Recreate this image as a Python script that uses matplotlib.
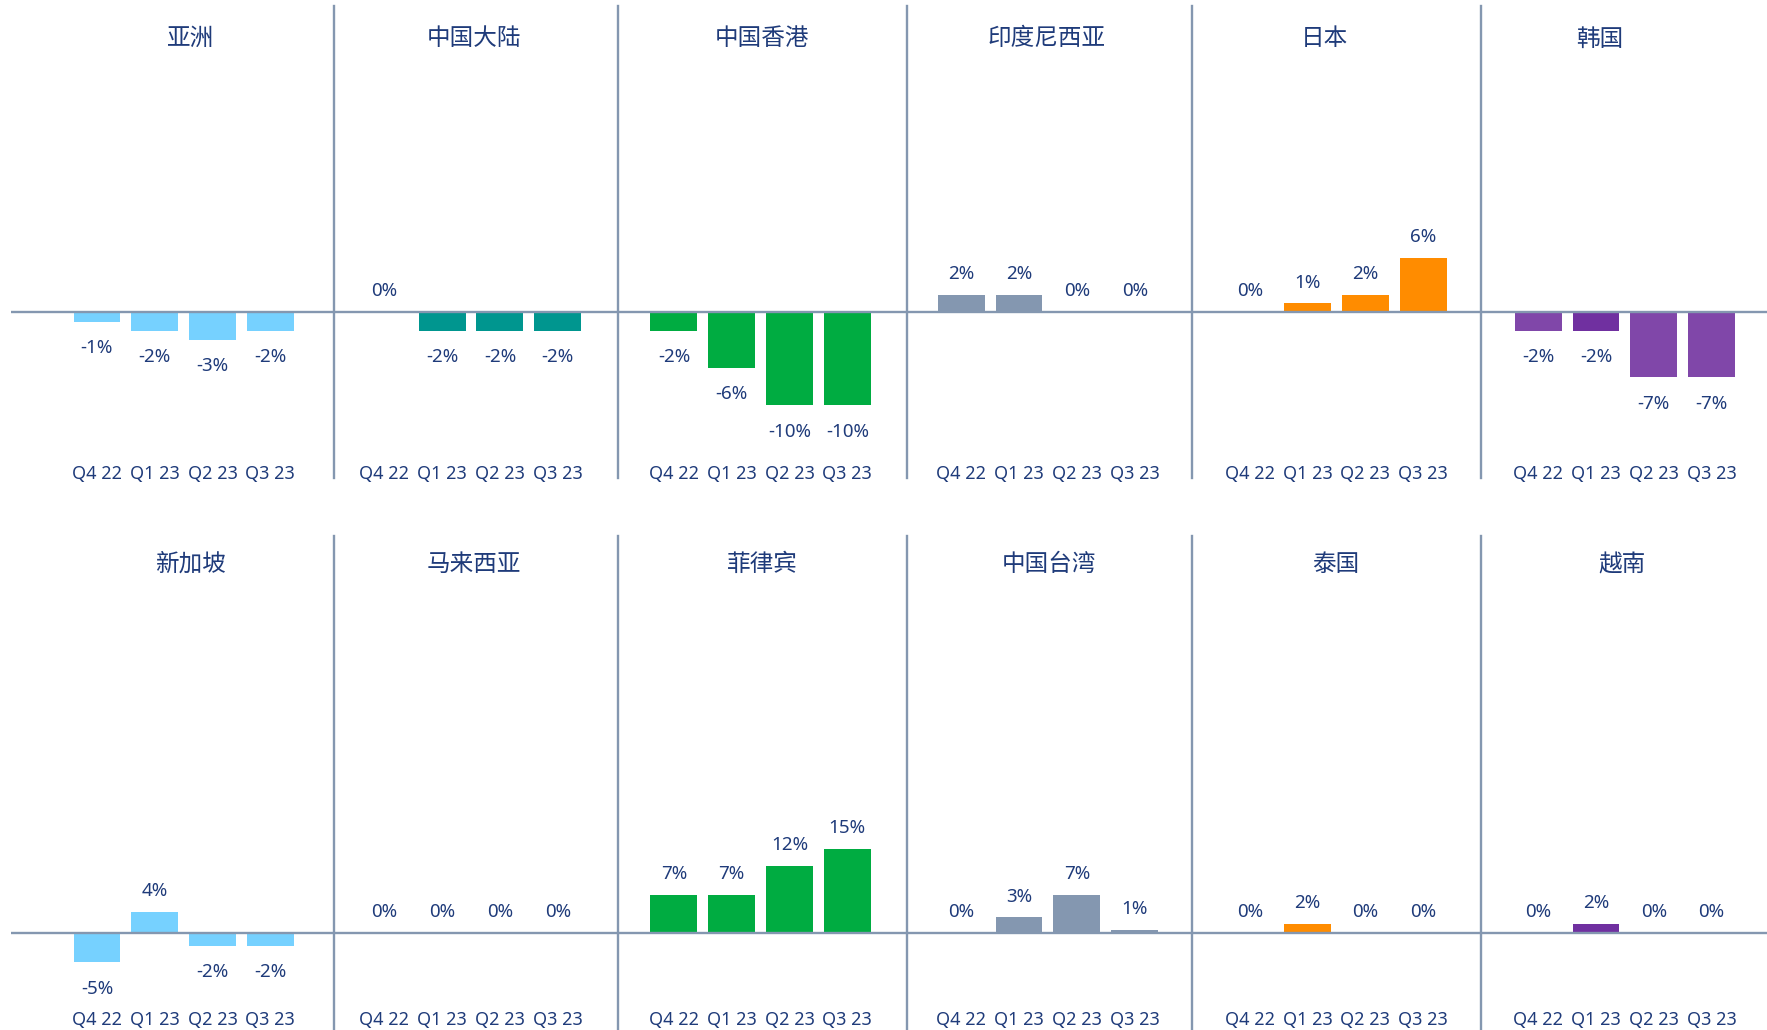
import matplotlib
matplotlib.use("Agg")
import matplotlib.pyplot as plt

plt.rcParams['font.family'] = ['Noto Sans', 'Noto Sans CJK SC', 'DejaVu Sans']

quarters = ["Q4 22", "Q1 23", "Q2 23", "Q3 23"]

regions = ["亚洲", "中国大陆", "中国香港", "印度尼西亚", "日本", "韩国",
           "新加坡", "马来西亚", "菲律宾", "中国台湾", "泰国", "越南"]

# quarterly change, %
growth = [
    [-1.1, -2.0, -3.0, -2.0],
    [0.0, -2.0, -2.0, -2.0],
    [-2.0, -6.0, -10.0, -10.0],
    [1.8, 1.8, 0.0, 0.0],
    [0.0, 0.9, 1.8, 5.8],
    [-2.0, -2.0, -7.0, -7.0],
    [-5.2, 3.8, -2.2, -2.2],
    [0.0, 0.0, 0.0, 0.0],
    [6.8, 6.8, 12.0, 15.0],
    [0.0, 2.8, 6.8, 0.6],
    [0.0, 1.6, 0.0, 0.0],
    [0.0, 1.6, 0.0, 0.0],
]

lightblue = "#76D1FF"
teal = "#00968F"
green = "#00AC41"
grey = "#8497B0"
orange = "#FF8C00"
purple = "#8047A9"
dpurple = "#7030A0"

bar_colors = [
    [lightblue] * 4,
    [teal] * 4,
    [green] * 4,
    [grey] * 4,
    [orange] * 4,
    [purple, dpurple, purple, purple],
    [lightblue] * 4,
    [teal] * 4,
    [green] * 4,
    [grey] * 4,
    [orange] * 4,
    [dpurple] * 4,
]

navy = "#1F3B7A"
line_c = "#8497B0"

# layout in reference pixels
W, H = 1568.0, 915.0
col_edges = [10, 296, 548, 805, 1058, 1314, 1568]
first_bar = [86, 341, 598, 853, 1109, 1365]
step = 51.3
title_shift = [[6, 3, 1, -1, -11, -22], [6, 3, 2, 1, -1, -3]]
# (top, bottom, zero line, px per %, title y, tick pad)
rows = [(5, 425, 277, 8.3, 35, -10.0), (476, 915, 829, 5.0, 502, -14.0)]

fig = plt.figure(figsize=(17.67, 10.30), dpi=100)

for i, name in enumerate(regions):
    r, c = divmod(i, 6)
    top, bot, zero, ppp, ty, pad = rows[r]
    x0, x1 = col_edges[c], col_edges[c + 1]
    ax = fig.add_axes([x0 / W, 1 - bot / H, (x1 - x0) / W, (bot - top) / H])
    left = -(first_bar[c] - x0) / step
    ax.set_xlim(left, left + (x1 - x0) / step)
    ax.set_ylim(-(bot - zero) / ppp, (zero - top) / ppp)

    vals = growth[i]
    ax.bar(range(4), vals, width=0.81, color=bar_colors[i], zorder=2)
    ax.axhline(0, color=line_c, lw=1.7, zorder=3)

    for k, v in enumerate(vals):
        off = 15 if v >= 0 else -19
        ax.annotate(f"{round(v):.0f}%", (k, v), xytext=(0, off),
                    textcoords="offset points", ha="center", va="center",
                    fontsize=13.5, color=navy)

    ax.set_xticks(range(4), quarters)
    ax.tick_params(axis="x", length=0, pad=pad, labelsize=13, labelcolor=navy)
    ax.set_yticks([])
    for s in ["top", "right", "bottom"]:
        ax.spines[s].set_visible(False)
    if c == 0:
        ax.spines["left"].set_visible(False)
    else:
        ax.spines["left"].set_color(line_c)
        ax.spines["left"].set_linewidth(1.7)
    ax.patch.set_alpha(0)

    cx = first_bar[c] + 1.5 * step + title_shift[r][c]
    fig.text(cx / W, 1 - ty / H, name, ha="center", va="center",
             fontsize=17, color=navy)

fig.savefig("out.png", dpi=100)
